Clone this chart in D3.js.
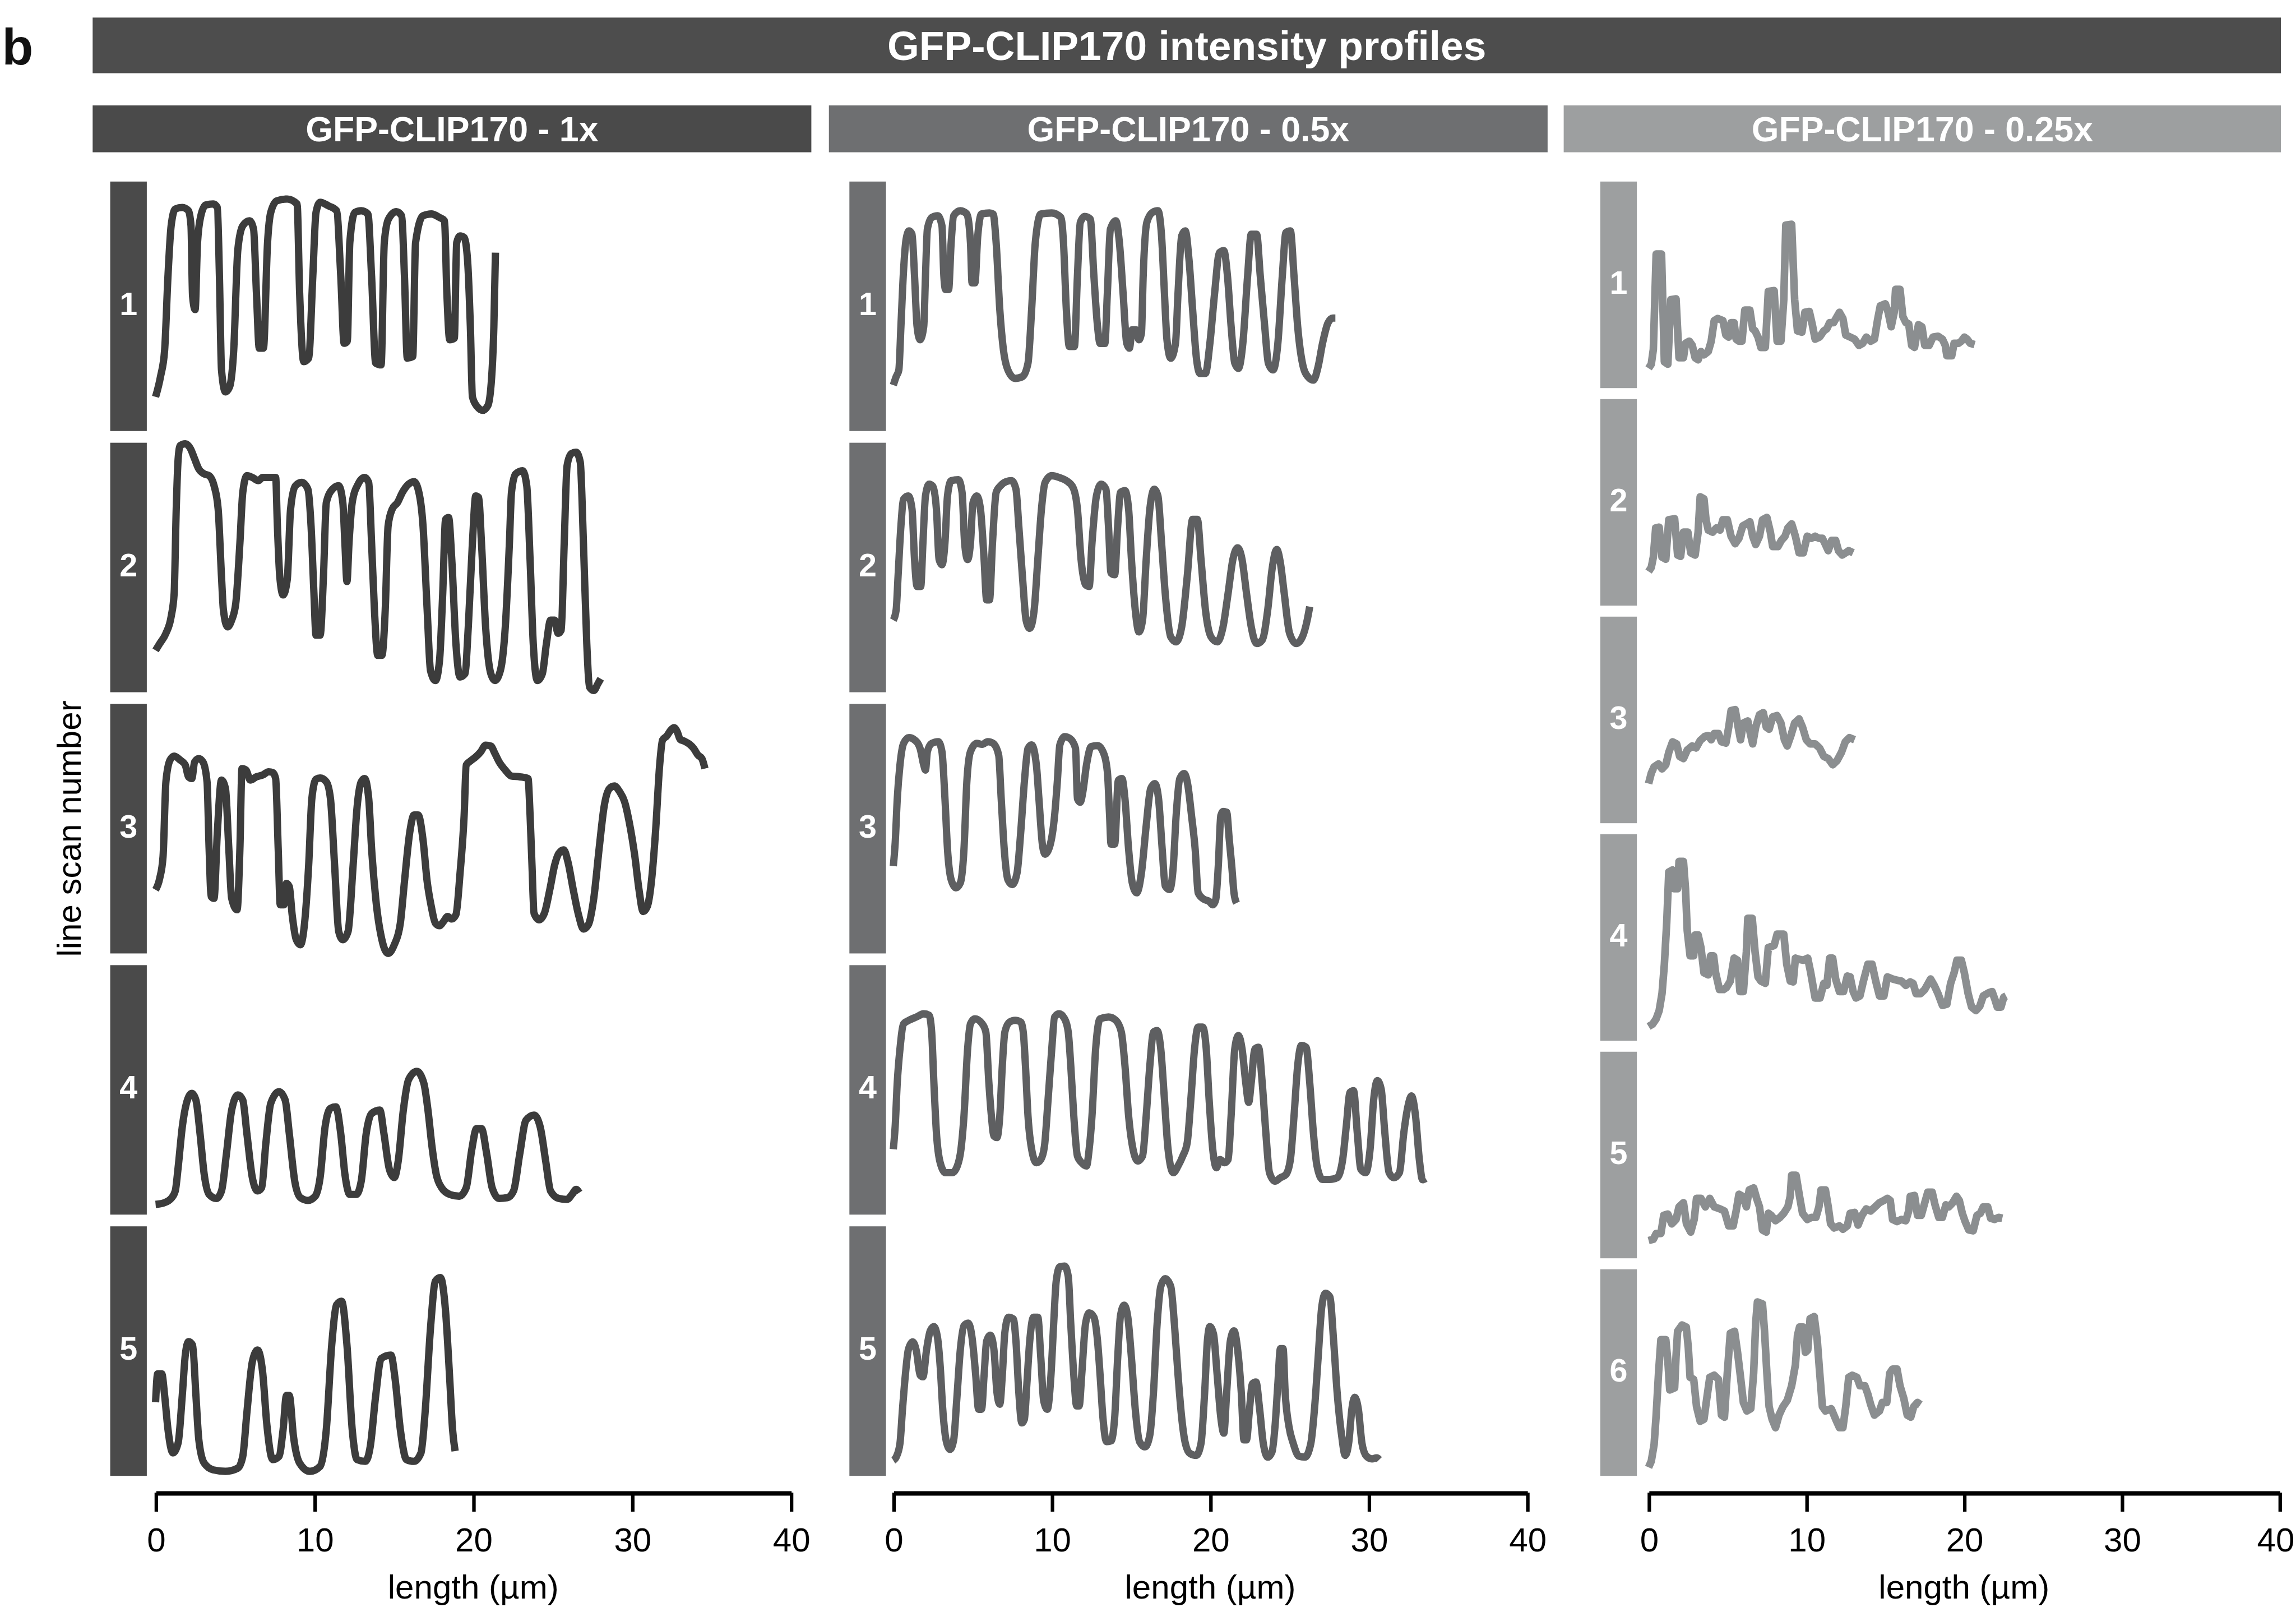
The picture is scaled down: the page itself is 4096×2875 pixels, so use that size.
<!DOCTYPE html>
<html>
<head>
<meta charset="utf-8">
<script src="https://cdn.jsdelivr.net/npm/d3@7"></script>
<style>
  html, body { margin: 0; padding: 0; background: #ffffff; }
  svg { display: block; }
</style>
</head>
<body>
<script>
// ---------------------------------------------------------------------------
// Line-scan intensity profiles: [length (µm), relative intensity (0-100)]
// ---------------------------------------------------------------------------

// GFP-CLIP170 - 1x
const scan1x_1 = [[0,13.7],[0.31,21.8],[0.57,32.5],[0.78,62.1],[0.98,82.3],[1.24,89],[1.68,89.6],[2.07,88.3],[2.23,82.3],[2.33,54],[2.49,48.7],[2.64,75.5],[2.85,86.3],[3.16,90.6],[3.63,91],[3.89,89.6],[4.02,62.1],[4.15,24.5],[4.4,15.7],[4.66,17.7],[4.92,32.5],[5.18,72.8],[5.49,82.3],[5.91,84.3],[6.17,80.9],[6.35,55.4],[6.53,33.2],[6.79,33.2],[7.05,75.5],[7.25,87.6],[7.64,92.3],[8.29,93],[8.91,91],[9.07,55.4],[9.33,27.8],[9.64,29.2],[9.9,62.1],[10.1,87.6],[10.36,91.7],[10.88,90.3],[11.4,88.3],[11.66,62.1],[11.87,35.2],[12.07,35.9],[12.23,75.5],[12.54,87.6],[12.95,88.3],[13.37,87],[13.6,62.1],[13.86,27.2],[14.2,26.5],[14.4,75.5],[14.66,84.9],[15.16,87.9],[15.49,86.3],[15.67,62.1],[15.85,29.2],[16.19,29.8],[16.37,75.5],[16.84,86.3],[17.36,87],[17.88,85.6],[18.19,84.3],[18.34,55.4],[18.52,36.6],[18.81,37.2],[18.96,75.5],[19.17,78.2],[19.43,77.6],[19.64,68.8],[19.82,41.9],[19.95,13.7],[20.26,9.7],[20.6,8.3],[20.93,10.3],[21.19,24.5],[21.3,41.9],[21.4,71.5]];

const scan1x_2 = [[0,16.8],[0.26,19.5],[0.65,23.6],[0.98,30.3],[1.17,39.7],[1.3,73.4],[1.42,93.5],[1.55,98.9],[1.87,99.6],[2.2,97.6],[2.46,93.5],[2.72,89.5],[3.06,87.5],[3.37,86.8],[3.68,82.8],[3.94,73.4],[4.15,46.4],[4.27,33],[4.53,26.2],[4.79,28.9],[5.05,35.7],[5.31,59.9],[5.49,80.1],[5.75,86.8],[6.09,86.1],[6.48,84.8],[6.74,86.1],[7.25,86.1],[7.56,86.1],[7.67,66.6],[7.82,46.4],[8.03,39],[8.29,45.1],[8.5,73.4],[8.81,82.8],[9.2,84.1],[9.59,81.4],[9.79,66.6],[9.97,39.7],[10.1,22.9],[10.36,22.9],[10.57,46.4],[10.75,76],[11.14,81.4],[11.53,82.8],[11.79,76],[11.92,59.9],[12.05,44.4],[12.18,59.9],[12.38,76],[12.75,83.4],[13.16,86.1],[13.42,84.1],[13.6,59.9],[13.78,33],[13.99,14.8],[14.25,14.8],[14.46,33],[14.64,66.6],[14.9,73.4],[15.23,76],[15.54,80.1],[15.93,83.4],[16.27,84.4],[16.58,80.1],[16.84,66.6],[17.1,33],[17.31,8.7],[17.62,4.7],[17.88,12.8],[18.08,39.7],[18.26,69.3],[18.45,70],[18.65,53.2],[18.91,19.5],[19.17,6.1],[19.48,7.4],[19.69,26.2],[19.95,59.9],[20.16,78.7],[20.34,78.1],[20.52,59.9],[20.78,26.2],[21.11,7.4],[21.37,4.7],[21.71,8.7],[22.02,26.2],[22.28,59.9],[22.41,80.1],[22.67,87.5],[23.11,88.8],[23.37,82.8],[23.58,53.2],[23.78,19.5],[24.04,4.7],[24.35,7.4],[24.61,19.5],[24.87,28.9],[25.13,28.9],[25.34,23.6],[25.54,24.9],[25.73,59.9],[25.91,90.8],[26.17,95.6],[26.48,96.2],[26.74,92.2],[26.94,59.9],[27.15,19.5],[27.33,2],[27.59,0.7],[27.85,3.4],[28.03,5.4]];

const scan1x_3 = [[0,25.5],[0.26,30.1],[0.47,38.8],[0.65,68.8],[0.91,77.5],[1.17,79.1],[1.55,77.5],[1.87,75.5],[2.07,70.8],[2.28,70.1],[2.46,76.8],[2.72,78.1],[2.98,76.8],[3.24,68.8],[3.37,42.1],[3.5,22.8],[3.68,22.1],[3.89,48.8],[4.15,69.5],[4.4,66.1],[4.61,42.1],[4.79,22.1],[5.13,17.5],[5.31,42.1],[5.44,74.1],[5.7,73.5],[5.96,69.5],[6.35,70.8],[6.74,71.5],[7.12,72.8],[7.38,72.5],[7.56,70.1],[7.72,42.1],[7.85,19.5],[8.08,19.5],[8.24,28.1],[8.42,26.8],[8.6,15.5],[8.86,5.5],[9.12,3.5],[9.38,12.1],[9.64,35.5],[9.84,62.1],[10.1,69.8],[10.36,70.3],[10.75,68.8],[11.01,62.1],[11.27,35.5],[11.53,8.8],[11.79,5.5],[12.12,8.8],[12.44,35.5],[12.69,58.8],[12.95,68.8],[13.16,70.1],[13.42,62.1],[13.6,42.1],[13.86,22.1],[14.25,5.5],[14.64,0],[15.03,3.5],[15.41,12.1],[15.67,28.8],[16.01,48.8],[16.27,55.5],[16.53,55.5],[16.84,45.5],[17.1,28.8],[17.36,18.8],[17.62,12.1],[17.88,11.1],[18.13,12.8],[18.39,14.8],[18.65,13.8],[18.91,15.5],[19.17,32.1],[19.43,55.5],[19.56,75.5],[19.82,77.1],[20.16,78.8],[20.47,80.8],[20.78,83.5],[21.11,83.1],[21.37,80.1],[21.63,76.8],[22.02,73.5],[22.41,71.1],[22.93,70.8],[23.45,70.1],[23.58,55.5],[23.7,35.5],[23.83,16.1],[24.15,13.5],[24.48,16.1],[24.82,25.5],[25.13,35.5],[25.39,40.1],[25.7,41.5],[25.96,36.8],[26.3,25.5],[26.63,15.5],[26.94,9.8],[27.25,11.5],[27.59,22.1],[27.93,42.1],[28.24,58.8],[28.58,66.1],[28.89,67.1],[29.22,64.8],[29.53,60.8],[29.84,52.1],[30.18,38.8],[30.44,25.5],[30.7,16.8],[30.96,18.8],[31.22,28.8],[31.48,48.8],[31.74,75.5],[31.92,85.5],[32.18,87.1],[32.44,89.5],[32.64,90.5],[32.85,88.8],[33.03,85.8],[33.29,85.1],[33.63,83.8],[33.89,82.1],[34.15,79.5],[34.4,78.1],[34.59,74.1]];

const scan1x_4 = [[0,4.1],[0.52,4.7],[0.98,6.5],[1.24,9.5],[1.42,18.9],[1.68,35.1],[1.94,44.6],[2.28,48.6],[2.54,45.9],[2.8,32.4],[3.06,16.2],[3.37,8.1],[3.83,6.5],[4.15,9.5],[4.46,24.3],[4.79,41.9],[5.18,48],[5.49,45.9],[5.75,32.4],[6.09,14.9],[6.42,9.5],[6.68,10.8],[6.94,28.4],[7.25,44.6],[7.77,49.3],[8.16,45.9],[8.42,32.4],[8.76,13.5],[9.12,6.8],[9.59,5.7],[10.05,7.4],[10.36,14.9],[10.67,35.1],[11.01,42.6],[11.35,43.2],[11.66,32.4],[11.92,16.2],[12.23,8.1],[12.64,8.1],[12.95,13.5],[13.26,32.4],[13.6,40.5],[14.12,41.9],[14.38,32.4],[14.72,18.2],[15.03,14.9],[15.28,21.6],[15.6,41.9],[15.93,54.1],[16.45,57.4],[16.89,52.7],[17.15,41.9],[17.41,27],[17.67,16.2],[18.01,10.8],[18.53,8.1],[19.12,7.4],[19.56,10.8],[19.9,25.7],[20.21,34.5],[20.52,34.5],[20.85,24.3],[21.19,10.8],[21.63,6.5],[22.15,6.8],[22.54,9.5],[22.93,24.3],[23.32,37.8],[23.83,39.9],[24.22,35.1],[24.56,21.6],[24.87,9.5],[25.39,6.5],[25.91,6.1],[26.22,8.1],[26.48,10.1],[26.68,8.8]];

const scan1x_5 = [[0,29.5],[0.13,40.9],[0.39,40.9],[0.57,32.2],[0.78,18.6],[1.09,9.2],[1.42,13.2],[1.68,32.2],[1.87,48.4],[2.07,53.8],[2.33,52.4],[2.54,32.2],[2.72,14.6],[3.06,5.1],[3.63,2.4],[4.4,1.8],[5.18,3.1],[5.49,7.8],[5.75,25.4],[6.09,45.7],[6.42,50.4],[6.74,41.6],[7,20.9],[7.38,6.5],[7.77,7.8],[8.03,18.6],[8.24,32.2],[8.42,32.2],[8.68,15.9],[9.07,5.1],[9.72,1.8],[10.36,3.8],[10.75,18.6],[11.09,52.4],[11.4,68.6],[11.71,70],[12.05,52.4],[12.38,18.6],[12.69,6.5],[13.21,5.8],[13.52,11.9],[13.86,32.2],[14.2,47],[14.82,48.4],[15.08,38.9],[15.41,18.6],[15.8,6.5],[16.27,5.8],[16.71,9.2],[16.97,25.4],[17.31,59.2],[17.62,78.1],[17.93,79.5],[18.26,65.9],[18.52,38.9],[18.7,18.6],[18.86,9.9]];

// GFP-CLIP170 - 0.5x
const scan05x_1 = [[0,18.4],[0.18,21.8],[0.35,24.5],[0.48,41.9],[0.65,64.8],[0.81,76.9],[0.99,80.2],[1.18,78.9],[1.34,62.1],[1.5,41.9],[1.69,36.6],[1.92,41.9],[2.03,62.1],[2.15,80.9],[2.43,85.6],[2.8,86.3],[3.07,82.3],[3.19,62.1],[3.3,56.7],[3.49,56.7],[3.65,75.5],[3.81,86.3],[4.23,88.3],[4.64,87],[4.87,75.5],[4.97,59.4],[5.15,59.4],[5.33,78.2],[5.57,87],[6.07,87.4],[6.3,87],[6.49,75.5],[6.72,48.7],[6.95,32.5],[7.23,24.5],[7.69,21.1],[8.15,21.8],[8.5,27.2],[8.73,48.7],[8.96,75.5],[9.31,87],[10,87.4],[10.58,85.6],[10.74,75.5],[10.92,48.7],[11.11,33.9],[11.43,33.9],[11.62,62.1],[11.8,83.6],[12.08,86],[12.43,85],[12.66,62.1],[12.89,41.9],[13.05,35.1],[13.35,35.1],[13.51,55.4],[13.7,80.9],[14.04,84.3],[14.27,75.5],[14.5,55.4],[14.73,35.2],[14.9,33.2],[15.08,40.6],[15.31,40.6],[15.5,36.6],[15.66,39.2],[15.77,62.1],[16,83.6],[16.35,87.6],[16.7,88.3],[16.93,78.2],[17.11,55.4],[17.27,36.6],[17.51,29.2],[17.81,35.2],[17.97,55.4],[18.2,78.2],[18.43,80.2],[18.66,68.8],[18.89,48.7],[19.12,29.8],[19.35,23.1],[19.7,23.1],[19.98,35.2],[20.28,55.4],[20.58,71.5],[20.86,72.3],[21.09,62.1],[21.32,41.9],[21.55,27.2],[21.78,25.1],[22.06,35.2],[22.36,62.1],[22.59,78.9],[22.93,78.9],[23.16,62.1],[23.44,41.9],[23.67,27.2],[23.97,24.5],[24.27,35.2],[24.55,62.1],[24.78,79.6],[25.06,80.2],[25.29,62.1],[25.52,41.9],[25.82,27.2],[26.16,21.8],[26.51,20.4],[26.81,25.8],[27.09,35.2],[27.43,43.3],[27.74,45.3],[27.9,45.3]];

const scan05x_2 = [[0,28.9],[0.18,33],[0.3,46.4],[0.48,66.6],[0.65,77.4],[0.95,78.7],[1.18,73.4],[1.34,53.2],[1.5,42.4],[1.73,42.4],[1.87,59.9],[2.03,78.7],[2.26,83.4],[2.49,82.6],[2.72,73.4],[2.89,53.2],[3.07,51.1],[3.26,59.9],[3.42,78.7],[3.65,84.8],[4.11,85.2],[4.34,80.1],[4.5,59.9],[4.69,53.2],[4.87,59.9],[5.03,76],[5.27,78.7],[5.5,73.4],[5.73,53.2],[5.89,37],[6.07,37],[6.26,59.9],[6.49,80.1],[6.77,82.8],[7.11,84.4],[7.46,84.8],[7.74,81.4],[7.92,66.6],[8.15,46.4],[8.38,28.9],[8.61,25.6],[8.89,33],[9.12,53.2],[9.35,73.4],[9.58,84.1],[10,86.8],[10.46,86.1],[10.92,84.8],[11.34,82.1],[11.62,73.4],[11.85,53.2],[12.13,43.1],[12.36,42.4],[12.54,59.9],[12.82,78.7],[13.12,83.4],[13.42,81.4],[13.58,66.6],[13.74,47.8],[13.97,47.1],[14.16,66.6],[14.34,80.1],[14.62,80.8],[14.85,73.4],[15.03,53.2],[15.27,33],[15.5,24.2],[15.73,28.9],[15.96,53.2],[16.19,73.4],[16.47,81.4],[16.7,78.7],[16.93,59.9],[17.16,39.7],[17.51,22.2],[17.85,20.2],[18.2,26.2],[18.55,46.4],[18.89,69.3],[19.19,69.3],[19.42,53.2],[19.7,33],[20.05,22.2],[20.44,20.2],[20.81,26.2],[21.13,39.7],[21.43,53.2],[21.73,57.9],[22.01,53.2],[22.29,39.7],[22.59,26.2],[22.93,19.5],[23.28,20.9],[23.63,33],[23.9,49.1],[24.2,57.2],[24.43,51.8],[24.67,39.7],[25.01,23.6],[25.43,19.5],[25.82,22.2],[26.12,28.9],[26.28,34.3]];

const scan05x_3 = [[0,35],[0.12,44.5],[0.25,62],[0.42,75.5],[0.65,84.2],[0.99,86.5],[1.34,85.6],[1.69,82.2],[1.92,75.5],[2.03,73.5],[2.15,80.9],[2.43,84.2],[2.84,84.9],[3.07,80.9],[3.26,62],[3.42,41.8],[3.65,29.6],[3.95,26.3],[4.23,28.3],[4.46,41.8],[4.64,68.7],[4.87,80.9],[5.27,84.2],[5.61,83.8],[5.96,84.9],[6.3,84.2],[6.65,79.5],[6.81,62],[7,41.8],[7.23,29.6],[7.51,27.6],[7.81,32.3],[8.04,48.5],[8.27,68.7],[8.5,82.2],[8.73,83.6],[9.03,75.5],[9.19,62],[9.42,43.1],[9.58,39.8],[9.88,43.1],[10.18,55.3],[10.35,68.7],[10.51,83.6],[10.81,86.9],[11.15,86.1],[11.5,82.2],[11.62,62],[11.8,60.6],[11.96,64.7],[12.19,75.5],[12.49,82.9],[12.89,83.3],[13.23,80.9],[13.51,72.8],[13.65,55.3],[13.74,43.8],[13.97,43.8],[14.2,69.4],[14.43,70.1],[14.62,62],[14.85,41.8],[15.08,28.3],[15.36,24.3],[15.66,32.3],[15.96,51.2],[16.24,66],[16.51,68.1],[16.74,62],[16.97,41.8],[17.16,27],[17.44,25.6],[17.67,35],[17.85,55.3],[18.08,70.1],[18.36,72.1],[18.59,67.4],[18.82,55.3],[19.05,41.8],[19.24,24.3],[19.58,21.8],[19.93,20.9],[20.16,19.5],[20.35,21.6],[20.51,35],[20.67,55.3],[20.81,56.9],[21.04,56.6],[21.2,45.8],[21.36,35],[21.5,24.3],[21.66,20.2]];

const scan05x_4 = [[0,26.2],[0.12,35.6],[0.25,53],[0.42,66.4],[0.65,76.5],[0.99,77.9],[1.45,79.2],[1.92,80.5],[2.26,79.9],[2.42,73.2],[2.56,53],[2.72,32.9],[2.96,20.8],[3.3,16.8],[3.72,16.8],[4.04,19.5],[4.27,26.2],[4.46,39.6],[4.69,66.4],[4.87,76.5],[5.15,78.5],[5.61,76.5],[5.84,73.2],[6.03,53],[6.19,39.6],[6.35,31.5],[6.54,30.9],[6.72,39.6],[6.88,59.7],[7.04,73.2],[7.34,77.2],[7.69,77.9],[8.04,77.2],[8.2,73.2],[8.34,59.7],[8.5,39.6],[8.73,26.2],[9.03,20.8],[9.31,22.1],[9.54,27.5],[9.77,46.3],[10,66.4],[10.18,79.2],[10.46,80.5],[10.81,78.5],[11.04,73.2],[11.2,59.7],[11.39,39.6],[11.62,23.5],[11.89,20.8],[12.19,19.5],[12.36,26.2],[12.54,39.6],[12.77,66.4],[13.05,78.5],[13.58,79.2],[14.04,77.9],[14.39,73.2],[14.62,59.7],[14.85,39.6],[15.13,26.2],[15.43,21.5],[15.73,23.5],[15.96,39.6],[16.19,59.7],[16.42,73.2],[16.65,73.8],[16.88,66.4],[17.11,46.3],[17.34,26.2],[17.67,16.8],[17.97,19.5],[18.27,23.5],[18.55,28.9],[18.78,46.3],[19.01,66.4],[19.24,75.2],[19.52,75.2],[19.75,66.4],[19.93,46.3],[20.16,26.2],[20.39,18.8],[20.62,22.1],[20.9,20.8],[21.13,22.1],[21.32,39.6],[21.55,66.4],[21.78,71.8],[22.01,66.4],[22.24,53],[22.43,45],[22.59,53],[22.82,66.4],[23.05,67.1],[23.28,53],[23.51,32.9],[23.74,16.8],[24.09,13.4],[24.43,14.8],[24.78,16.1],[25.06,22.1],[25.29,39.6],[25.52,59.7],[25.75,67.8],[26.05,67.1],[26.28,53],[26.51,32.9],[26.74,19.5],[27.09,14.1],[27.55,14.1],[28.01,14.8],[28.36,22.1],[28.59,35.6],[28.82,49],[29.05,49.7],[29.28,32.9],[29.51,18.1],[29.81,16.8],[30.09,26.2],[30.32,46.3],[30.55,53.7],[30.79,50.3],[31.02,32.9],[31.29,16.8],[31.59,14.8],[31.94,16.8],[32.22,32.9],[32.5,44],[32.7,47.6],[32.95,40],[33.2,22],[33.4,14],[33.6,14.5]];

const scan05x_5 = [[0,6.2],[0.18,7.5],[0.42,13],[0.58,26.7],[0.76,40.4],[0.95,50.6],[1.22,53.7],[1.46,49.9],[1.69,40.4],[1.87,39.7],[2.1,50.6],[2.33,58.1],[2.56,59.8],[2.79,55.4],[2.96,43.8],[3.12,26.7],[3.35,13.7],[3.58,10.6],[3.81,14.4],[4,30.1],[4.23,50.6],[4.46,60.2],[4.73,61.2],[4.97,55.4],[5.2,40.4],[5.38,26.7],[5.57,26.7],[5.73,40.4],[5.89,54],[6.12,56.4],[6.35,50.6],[6.54,33.5],[6.72,28.7],[6.88,40.4],[7.04,57.5],[7.27,63.6],[7.57,62.9],[7.74,54],[7.92,33.5],[8.11,21.2],[8.27,22.6],[8.43,36.9],[8.61,54],[8.85,63.6],[9.12,63.6],[9.31,47.2],[9.49,30.1],[9.72,26.7],[9.95,40.4],[10.12,60.9],[10.28,78],[10.51,83.8],[10.81,84.1],[11.04,80],[11.2,60.9],[11.39,40.4],[11.57,28],[11.73,28],[11.89,40.4],[12.13,60.9],[12.36,65.3],[12.66,63.6],[12.89,54],[13.05,40.4],[13.23,23.3],[13.46,13.7],[13.74,14],[13.97,23.3],[14.16,47.2],[14.34,64.3],[14.57,68.4],[14.8,63.6],[15.03,47.2],[15.27,26.7],[15.54,13.7],[15.89,11.6],[16.19,16.4],[16.42,33.5],[16.65,60.9],[16.88,75.9],[17.16,79],[17.51,75.9],[17.74,60.9],[17.97,40.4],[18.2,23.3],[18.43,13],[18.73,8.9],[19.12,8.2],[19.42,13],[19.65,33.5],[19.82,54],[19.98,59.8],[20.21,56.8],[20.44,40.4],[20.67,23.3],[20.86,17.1],[21.04,33.5],[21.27,54],[21.5,58.1],[21.73,50.6],[21.96,33.5],[22.13,14.4],[22.29,14.4],[22.48,26.7],[22.66,36.9],[22.89,37.6],[23.12,26.7],[23.35,13],[23.63,7.5],[23.9,9.6],[24.09,19.8],[24.27,36.9],[24.43,51],[24.6,51],[24.73,33.5],[24.97,19.8],[25.24,13],[25.59,7.9],[25.98,7.5],[26.35,13],[26.58,26.7],[26.81,47.2],[27.04,67.7],[27.27,73.2],[27.55,71.8],[27.79,54],[28.01,33.5],[28.29,16.4],[28.52,8.2],[28.75,13.7],[28.94,26.7],[29.12,31.5],[29.35,26.7],[29.58,13],[29.86,7.9],[30.21,6.8],[30.51,7.2],[30.67,6.5]];

// GFP-CLIP170 - 0.25x
const scan025x_1 = [[0,9.6],[0.17,11.6],[0.3,18.7],[0.48,64.9],[0.82,64.9],[1,12.7],[1.22,11.6],[1.41,42.8],[1.74,43.2],[1.93,14.7],[2.21,14.7],[2.34,21.7],[2.58,22.7],[2.77,20.7],[2.95,14.7],[3.14,13.7],[3.32,17.7],[3.51,16.1],[3.78,17.7],[3.97,22.7],[4.16,32.7],[4.38,33.7],[4.71,32.7],[4.9,25.7],[5.08,24.7],[5.23,31.7],[5.42,31.7],[5.55,23.7],[5.73,22.7],[5.92,22.7],[6.1,37.8],[6.42,37.8],[6.6,28.7],[6.75,27.7],[6.94,24.7],[7.12,19.7],[7.4,19.7],[7.59,46.8],[7.96,47.2],[8.15,22.7],[8.39,22.7],[8.57,42.8],[8.7,78.9],[9.07,79.3],[9.26,42.8],[9.44,27.7],[9.72,27.1],[9.91,36.7],[10.19,37.1],[10.38,30.7],[10.56,23.7],[10.84,24.7],[11.11,27.7],[11.3,28.7],[11.48,31.7],[11.73,31.7],[12.1,36.7],[12.32,33.7],[12.5,25.7],[12.78,24.7],[13.06,23.7],[13.34,20.7],[13.58,21.7],[13.8,24.7],[14.08,22.7],[14.32,23.7],[14.51,32.7],[14.69,39.8],[15.01,40.8],[15.19,36.7],[15.38,29.7],[15.57,36.7],[15.66,47.8],[15.94,47.8],[16.12,34.7],[16.31,31.7],[16.49,31.1],[16.68,20.7],[16.86,19.7],[17.11,30.7],[17.33,29.7],[17.51,20.7],[17.79,20.7],[18.03,24.7],[18.35,25.1],[18.63,23.7],[18.81,20.7],[18.91,15.7],[19.22,15.7],[19.37,21.7],[19.65,21.7],[19.83,22.7],[20.02,24.7],[20.2,23.7],[20.39,21.7],[20.67,21.1]];

const scan025x_2 = [[0,16.5],[0.17,18.5],[0.3,23.5],[0.45,37.6],[0.67,38],[0.85,23.5],[1.09,22.5],[1.28,41.6],[1.65,42.1],[1.84,24.5],[2.03,23.9],[2.21,35.6],[2.49,35.6],[2.67,25.6],[2.95,24.5],[3.14,35.6],[3.27,52.7],[3.51,51.7],[3.64,41.6],[3.78,36.6],[4.06,35.6],[4.3,37.6],[4.53,36.6],[4.71,41.6],[4.99,41.6],[5.23,33.6],[5.49,30],[5.73,32.6],[5.97,38.6],[6.2,39.6],[6.42,40.6],[6.6,33.6],[6.79,29.6],[7.03,33.6],[7.22,41.6],[7.5,42.7],[7.72,35.6],[7.87,28.6],[8.2,28.6],[8.42,31.6],[8.65,33.6],[8.83,37.6],[9.07,39.6],[9.31,33.6],[9.54,25.6],[9.81,25.6],[10.06,33.6],[10.32,32.6],[10.56,33.6],[10.8,32.6],[11.02,32.6],[11.21,29.6],[11.39,26.6],[11.61,31.6],[11.86,31.6],[12.04,26.6],[12.28,24.5],[12.5,25.6],[12.69,26.6],[12.97,25.6]];

const scan025x_3 = [[0,19.2],[0.17,24.2],[0.35,27.3],[0.63,28.7],[0.85,26.3],[1.09,28.3],[1.28,34.3],[1.52,39.4],[1.78,38.4],[1.97,32.3],[2.21,31.3],[2.45,35.4],[2.76,37.4],[3.01,36.4],[3.27,40],[3.56,42],[3.78,42.4],[3.97,40.4],[4.16,43.4],[4.43,43.4],[4.62,39.4],[4.9,38.8],[5.08,46.5],[5.23,54.5],[5.49,55],[5.68,46.5],[5.83,40.4],[6.01,48.5],[6.29,49.5],[6.48,42.4],[6.6,38.4],[6.79,46.5],[7.03,52.5],[7.27,53.5],[7.46,46.5],[7.64,45.5],[7.87,51.5],[8.14,52.1],[8.39,48.5],[8.61,40.4],[8.79,37.4],[9.02,42.4],[9.26,48.5],[9.54,50.5],[9.76,46.5],[10,40.4],[10.24,38.4],[10.56,38.4],[10.84,36.4],[11.11,32.3],[11.39,31.3],[11.67,28.3],[11.95,30.3],[12.23,34.3],[12.47,39.4],[12.73,41.4],[13.06,40.4]];

const scan025x_4 = [[0,6.9],[0.26,8.1],[0.48,10.6],[0.67,14.6],[0.85,22.8],[1,37],[1.15,57.3],[1.28,81.7],[1.52,82.7],[1.6,73.6],[1.84,73.6],[1.93,86.8],[2.21,86.8],[2.34,73.6],[2.45,53.3],[2.63,41.1],[2.86,41.1],[2.95,51.2],[3.14,51.2],[3.32,45.1],[3.51,32.9],[3.78,31.9],[3.93,41.1],[4.12,41.1],[4.25,32.9],[4.49,24.8],[4.75,24.8],[4.94,25.8],[5.18,28.9],[5.42,40],[5.64,39],[5.79,23.8],[6.01,23.8],[6.2,43.1],[6.29,59.3],[6.57,59.3],[6.75,43.1],[6.94,30.9],[7.12,28.9],[7.4,27.8],[7.59,45.1],[7.96,46.1],[8.15,51.6],[8.57,51.6],[8.76,37],[8.98,28.9],[9.17,28.5],[9.31,40],[9.54,39.4],[9.81,39],[10.09,40],[10.28,32.9],[10.56,20.7],[10.87,20.7],[11.11,27.8],[11.3,26.8],[11.48,40],[11.67,40],[11.86,29.9],[12.1,23.8],[12.36,23.8],[12.6,31.3],[12.78,30.9],[12.97,23.8],[13.15,20.7],[13.4,21.7],[13.62,28.9],[13.9,37],[14.17,37],[14.4,28.9],[14.64,21.7],[14.92,21.7],[15.14,30.9],[15.47,29.9],[15.75,29.3],[16.03,28.9],[16.31,26.8],[16.59,28.5],[16.77,27.8],[16.96,22.8],[17.24,22.8],[17.51,24.8],[17.88,29.9],[18.11,26.8],[18.35,22.8],[18.63,17.1],[18.91,17.7],[19.15,27.8],[19.37,32.9],[19.55,39],[19.83,39],[20.02,32.9],[20.26,22.8],[20.48,16.3],[20.76,14.6],[21,16.7],[21.22,21.7],[21.56,23.2],[21.78,23.8],[21.97,19.7],[22.11,16.3],[22.34,16.3],[22.52,21.1],[22.67,21.7]];

const scan025x_5 = [[0,8.6],[0.3,9.2],[0.48,12],[0.78,12],[0.96,20.8],[1.22,21.4],[1.47,16.7],[1.74,18.8],[1.93,24.9],[2.21,26.9],[2.4,16.7],[2.67,12.7],[2.89,18.8],[3.04,29],[3.32,29],[3.6,24.9],[3.88,29],[4.16,24.9],[4.53,23.9],[4.81,22.9],[5.08,15.7],[5.36,15.7],[5.55,22.9],[5.73,31],[5.97,30],[6.2,24.9],[6.38,33.1],[6.66,34.1],[6.85,29],[7.03,24.9],[7.22,13.7],[7.46,12.7],[7.59,21.8],[7.77,20.8],[8.05,18.2],[8.33,19.8],[8.57,21.8],[8.83,24.9],[8.98,30],[9.07,40.2],[9.35,40.2],[9.57,30],[9.76,21.8],[10.06,18.8],[10.32,19.8],[10.61,19.8],[10.8,24.9],[10.93,33.1],[11.21,33.1],[11.39,24.9],[11.54,16.7],[11.76,14.7],[12.1,15.7],[12.32,14.1],[12.6,15.7],[12.78,21.8],[13.06,22.2],[13.28,16.1],[13.53,20.8],[13.8,23.9],[14.08,22.9],[14.36,24.9],[14.64,26.9],[14.92,28],[15.14,29],[15.32,28],[15.47,18.8],[15.75,17.8],[16.03,18.8],[16.31,18.2],[16.49,22.9],[16.59,30],[16.86,30.4],[17.05,20.8],[17.29,20.8],[17.51,26.9],[17.7,32],[17.98,32],[18.16,25.9],[18.4,19.8],[18.63,19.8],[18.85,25.9],[19.04,24.9],[19.28,26.9],[19.52,30],[19.7,28],[19.89,21.8],[20.07,17.8],[20.3,13.7],[20.58,13.3],[20.82,20.8],[21.04,21.8],[21.22,24.9],[21.5,24.9],[21.69,19.4],[21.93,18.8],[22.19,19.8],[22.43,19.4]];

const scan025x_6 = [[0,4.1],[0.17,7.1],[0.35,15.2],[0.48,29.4],[0.63,49.7],[0.78,65.9],[1.09,65.9],[1.22,55.8],[1.34,41.6],[1.65,42.6],[1.74,57.8],[1.84,70],[2.12,73],[2.39,72],[2.52,61.9],[2.63,47.7],[2.86,46.7],[3.04,33.5],[3.27,26.4],[3.51,27.4],[3.69,37.5],[3.88,47.7],[4.16,48.7],[4.43,46.7],[4.62,29.4],[4.81,28.4],[4.99,49.7],[5.18,69],[5.45,70],[5.64,59.8],[5.83,47.7],[6.01,35.5],[6.23,31.4],[6.48,32.5],[6.66,49.7],[6.79,74],[6.9,84.2],[7.22,83.2],[7.35,70],[7.5,49.7],[7.64,33.5],[7.83,27.4],[8.05,23.3],[8.27,29.4],[8.52,33.5],[8.79,36.5],[9.07,43.6],[9.31,53.8],[9.44,68],[9.57,72],[9.81,72],[9.94,59.8],[10.09,60.9],[10.24,76.1],[10.5,77.1],[10.69,65.9],[10.83,51.7],[11.02,33.5],[11.21,31.4],[11.58,32.5],[11.86,27.4],[12.1,23.3],[12.32,23.3],[12.5,33.5],[12.69,47.7],[12.91,48.7],[13.21,47.7],[13.4,43.6],[13.71,43.6],[13.9,39.6],[14.08,34.5],[14.32,29.4],[14.64,31.4],[14.82,35.5],[15.1,35.5],[15.29,49.7],[15.47,51.7],[15.75,51.7],[15.94,43.6],[16.18,37.5],[16.4,29.4],[16.62,28.4],[16.81,33.5],[17.05,35.5],[17.24,34.5]];

// Panel groupings, labels and axis ticks
const profiles1x   = [scan1x_1, scan1x_2, scan1x_3, scan1x_4, scan1x_5];
const profiles05x  = [scan05x_1, scan05x_2, scan05x_3, scan05x_4, scan05x_5];
const profiles025x = [scan025x_1, scan025x_2, scan025x_3, scan025x_4, scan025x_5, scan025x_6];
const rowLabels1x   = ["1", "2", "3", "4", "5"];
const rowLabels05x  = ["1", "2", "3", "4", "5"];
const rowLabels025x = ["1", "2", "3", "4", "5", "6"];
const panelTitles = ["GFP-CLIP170 - 1x", "GFP-CLIP170 - 0.5x", "GFP-CLIP170 - 0.25x"];
const chartTitle = "GFP-CLIP170 intensity profiles";
const panelLetter = "b";
const xTicks = [0, 10, 20, 30, 40];
const xDomain = [0, 40];
const intensityDomain = [0, 100];
const xAxisLabel = "length (µm)";
const yAxisLabel = "line scan number";

// ---------------------------------------------------------------------------
// Drawing
// ---------------------------------------------------------------------------
const W = 1568, H = 1101;
const FONT = "'Liberation Sans', Arial, Helvetica, sans-serif";

const svg = d3.select("body").append("svg")
  .attr("width", 4096)
  .attr("height", 2875)
  .attr("viewBox", `0 0 ${W} ${H}`)
  .attr("font-family", FONT);

const rowTop = 124, rowBottom = 1008;
const axisY = 1019.5;

const panels = [
  { title: panelTitles[0], rows: rowLabels1x, profiles: profiles1x,
    fill: "#4a4a4a", line: "#3c3c3c", hx0: 63, hx1: 554, barX: 75,
    ax0: 106, ax1: 540, gap: 8, curve: d3.curveMonotoneX, lw: 5 },
  { title: panelTitles[1], rows: rowLabels05x, profiles: profiles05x,
    fill: "#6e6f71", line: "#5e5f61", hx0: 566, hx1: 1057, barX: 580,
    ax0: 610, ax1: 1043, gap: 8, curve: d3.curveMonotoneX, lw: 5 },
  { title: panelTitles[2], rows: rowLabels025x, profiles: profiles025x,
    fill: "#9d9fa0", line: "#8b8e90", hx0: 1068, hx1: 1558, barX: 1093,
    ax0: 1126, ax1: 1557, gap: 7.5, curve: d3.curveLinear, lw: 5.2 }
];

// panel letter
svg.append("text")
  .attr("x", 1).attr("y", 44)
  .attr("font-size", 35).attr("font-weight", "bold")
  .attr("fill", "#111")
  .text(panelLetter);

// overall title bar
svg.append("rect")
  .attr("x", 63).attr("y", 12).attr("width", 1558 - 63).attr("height", 38)
  .attr("fill", "#4d4d4d");
svg.append("text")
  .attr("x", (63 + 1558) / 2).attr("y", 41)
  .attr("text-anchor", "middle")
  .attr("font-size", 28).attr("font-weight", "bold")
  .attr("fill", "#ffffff")
  .text(chartTitle);

// y-axis label
svg.append("text")
  .attr("transform", `translate(55, ${(rowTop + rowBottom) / 2}) rotate(-90)`)
  .attr("text-anchor", "middle")
  .attr("font-size", 23)
  .attr("fill", "#000")
  .text(yAxisLabel);

panels.forEach((p, pi) => {
  const g = svg.append("g");

  // header bar
  g.append("rect")
    .attr("x", p.hx0).attr("y", 72).attr("width", p.hx1 - p.hx0).attr("height", 32)
    .attr("fill", p.fill);
  g.append("text")
    .attr("x", (p.hx0 + p.hx1) / 2).attr("y", 96.5)
    .attr("text-anchor", "middle")
    .attr("font-size", 24).attr("font-weight", "bold")
    .attr("fill", "#ffffff")
    .text(p.title);

  const x = d3.scaleLinear().domain(xDomain).range([p.ax0, p.ax1]);

  const n = p.rows.length;
  const step = (rowBottom - rowTop + p.gap) / n;
  const band = d3.scaleBand()
    .domain(p.rows)
    .range([rowTop, rowBottom])
    .paddingInner(p.gap / step)
    .paddingOuter(0);

  p.rows.forEach((r, i) => {
    const y0 = band(r), bw = band.bandwidth();

    // row label bar
    g.append("rect")
      .attr("x", p.barX).attr("y", y0).attr("width", 25).attr("height", bw)
      .attr("fill", p.fill);
    g.append("text")
      .attr("x", p.barX + 12.5).attr("y", y0 + bw / 2 + 6)
      .attr("text-anchor", "middle")
      .attr("font-size", 22).attr("font-weight", "bold")
      .attr("fill", "#ffffff")
      .text(r);

    // intensity profile
    const y = d3.scaleLinear().domain(intensityDomain).range([y0 + bw, y0]);
    const line = d3.line()
      .x(d => x(d[0]))
      .y(d => y(d[1]))
      .curve(p.curve);
    g.append("path")
      .datum(p.profiles[i])
      .attr("d", line)
      .attr("fill", "none")
      .attr("stroke", p.line)
      .attr("stroke-width", p.lw)
      .attr("stroke-linejoin", "round")
      .attr("stroke-linecap", "butt");
  });

  // x axis
  const axis = d3.axisBottom(x)
    .tickValues(xTicks)
    .tickSize(13)
    .tickSizeOuter(0)
    .tickPadding(11);
  const ag = svg.append("g")
    .attr("transform", `translate(0, ${axisY})`)
    .call(axis);
  ag.select(".domain").attr("stroke", "#000").attr("stroke-width", 3);
  ag.selectAll(".tick line").attr("stroke", "#000").attr("stroke-width", 2.4);
  ag.selectAll(".tick text")
    .attr("font-size", 23)
    .attr("font-family", FONT)
    .attr("fill", "#000");
  // keep the last label of the right-most axis inside the page
  if (pi === panels.length - 1) {
    ag.selectAll(".tick text")
      .filter(d => d === xTicks[xTicks.length - 1])
      .attr("dx", -3);
  }

  svg.append("text")
    .attr("x", (p.ax0 + p.ax1) / 2).attr("y", 1092)
    .attr("text-anchor", "middle")
    .attr("font-size", 23)
    .attr("fill", "#000")
    .text(xAxisLabel);
});
</script>
</body>
</html>
